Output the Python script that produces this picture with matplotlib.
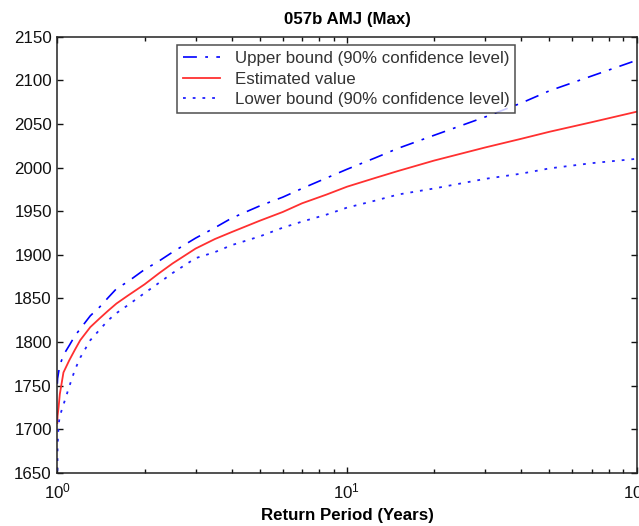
import matplotlib
matplotlib.use("Agg")
import matplotlib.pyplot as plt
from matplotlib.ticker import LogLocator, LogFormatterSciNotation, NullFormatter

plt.rcParams['font.family'] = ['Liberation Sans', 'DejaVu Sans']
plt.rcParams['lines.scale_dashes'] = False

# Return periods (years) and return levels for the three curves
return_period = [1.0, 1.002, 1.01, 1.02, 1.05, 1.1, 1.15, 1.2, 1.3, 1.4, 1.5, 1.6, 1.75,
                 2.0, 2.25, 2.5, 3.0, 3.5, 4.0, 5.0, 6.0, 7.0, 8.5, 10.0, 12.5, 15.0,
                 20.0, 30.0, 40.0, 50.0, 70.0, 100.0]
upper_bound = [1752, 1758, 1765, 1773, 1785, 1796, 1807, 1815, 1830, 1840, 1851, 1861, 1869,
               1883, 1893, 1903, 1919, 1931, 1942, 1956, 1966, 1976, 1988, 1998, 2011, 2022,
               2037, 2058, 2074, 2088, 2105, 2123]
estimated = [1707, 1715, 1725, 1740, 1765, 1779, 1791, 1802, 1817, 1827, 1836, 1844, 1853,
             1866, 1879, 1890, 1907, 1918, 1926, 1939, 1949, 1959, 1969, 1978, 1988, 1996,
             2008, 2023, 2033, 2041, 2052, 2064]
lower_bound = [1630, 1680, 1705, 1715, 1728, 1749, 1768, 1782, 1802, 1814, 1825, 1833, 1842,
               1856, 1868, 1879, 1896, 1903, 1911, 1921, 1931, 1938, 1946, 1954, 1962, 1969,
               1976, 1987, 1993, 1999, 2005, 2010]

title = "057b AMJ (Max)"
xlabel = "Return Period (Years)"
labels = ["Upper bound (90% confidence level)", "Estimated value",
          "Lower bound (90% confidence level)"]
y_ticks = [1650, 1700, 1750, 1800, 1850, 1900, 1950, 2000, 2050, 2100, 2150]

fs = 12.2

fig = plt.figure(figsize=(6.39, 5.26), dpi=100)
ax = fig.add_axes([0.0897, 0.1013, 0.9067, 0.8289])

ax.plot(return_period, upper_bound, color='#0000ff', lw=1.2,
        dashes=(10, 6, 2, 6), label=labels[0])
ax.plot(return_period, estimated, color='#ff3030', lw=1.3, label=labels[1])
ax.plot(return_period, lower_bound, color='#2020ff', lw=1.3,
        dashes=(2, 5), label=labels[2])

ax.set_xscale('log')
ax.set_xlim(1, 100)
ax.set_ylim(1650, 2150)
ax.set_yticks(y_ticks)
ax.xaxis.set_major_locator(LogLocator(base=10))
ax.xaxis.set_major_formatter(LogFormatterSciNotation())
ax.xaxis.set_minor_locator(LogLocator(base=10, subs=range(2, 10)))
ax.xaxis.set_minor_formatter(NullFormatter())

ax.tick_params(which='both', direction='in', top=True, right=True,
               labelsize=fs, colors='#111111', width=1)
ax.tick_params(which='major', length=4, pad=4)
ax.tick_params(which='minor', length=3)
ax.tick_params(axis='x', which='major', pad=6)
for sp in ax.spines.values():
    sp.set_linewidth(1.1)
    sp.set_color('#222222')

ax.set_title(title, fontsize=fs, fontweight='bold', pad=9)
ax.set_xlabel(xlabel, fontsize=fs, fontweight='bold', labelpad=5)

leg = ax.legend(loc='upper left', bbox_to_anchor=(0.2066, 0.981), borderaxespad=0,
                fontsize=fs, frameon=True, fancybox=False, edgecolor='#222222',
                handlelength=2.2, handletextpad=0.85, labelspacing=0.33,
                borderpad=0.35)
leg.get_frame().set_linewidth(1.1)
for t in leg.get_texts():
    t.set_color('#333333')

fig.savefig("out.png", dpi=100, facecolor='white')
